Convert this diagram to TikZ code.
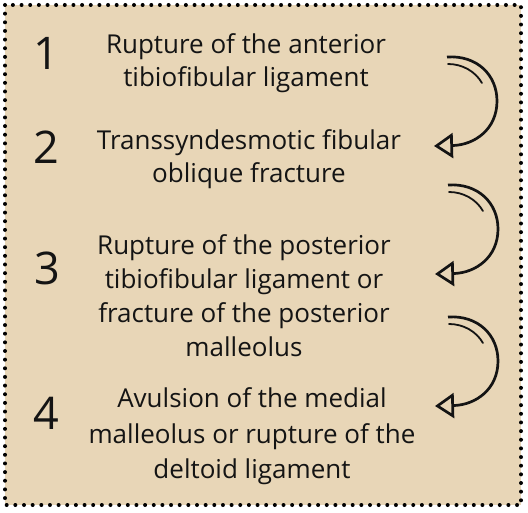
\documentclass[tikz,border=0pt]{standalone}
\usepackage{fontspec}
\setmainfont{Open Sans}
\usetikzlibrary{arrows.meta}
\definecolor{beige}{RGB}{232,214,183}
\definecolor{ink}{RGB}{20,20,20}
\tikzset{
  frame/.style={fill=beige, draw=black, line width=4pt, line cap=round, dash pattern=on 0pt off 8.65pt},
  numlbl/.style={text=ink, font=\fontsize{45}{50}\selectfont, inner sep=0pt},
  desc/.style={text=ink, align=center, font=\fontsize{26}{34}\selectfont, inner sep=0pt},
  curlline/.style={line width=2.7pt, draw=ink, -{Triangle[open, length=19pt, width=25pt, line width=2.7pt]}},
  innerline/.style={line width=1.8pt, draw=ink, line cap=round}
}
\newcommand{\curlarrow}[1]{%
  \begin{scope}[shift={(#1)}]
    \coordinate (s) at (0,0);
    \coordinate (r) at (50,44);
    \coordinate (t) at (-13,89);
    \draw[curlline] (s) .. controls (30,-2) and (50,18) .. (r) .. controls (50,72) and (28,88) .. (t);
    \draw[innerline] (1,7) .. controls (15,7) and (28,14) .. (35,26);
  \end{scope}}
\begin{document}
\begin{tikzpicture}[x=1pt,y=-1pt]
\useasboundingbox (0,0) rectangle (528,513);
\draw[frame] (5,5) rectangle (521,505);
\node[numlbl] (n1) at (46,53) {1};
\node[numlbl] (n2) at (46,147) {2};
\node[numlbl] (n3) at (47,268) {3};
\node[numlbl] (n4) at (46,413) {4};
\node[desc] (t1) at (246,63) {Rupture of the anterior\\[-1pt]tibiofibular ligament};
\node[desc] (t2) at (249,159) {Transsyndesmotic fibular\\[-1pt]oblique fracture};
\node[desc] (t3) at (244,296) {Rupture of the posterior\\tibiofibular ligament or\\fracture of the posterior\\malleolus};
\node[desc] (t4) at (252,436) {Avulsion of the medial\\[2pt]malleolus or rupture of the\\[1pt]deltoid ligament};
\curlarrow{447,57}
\curlarrow{448,185}
\curlarrow{448,317}
\end{tikzpicture}
\end{document}
